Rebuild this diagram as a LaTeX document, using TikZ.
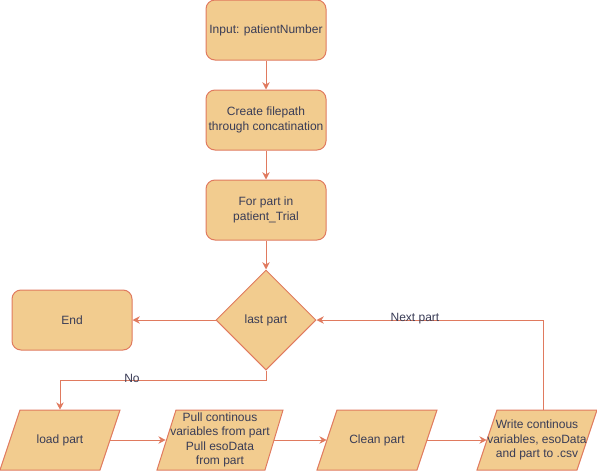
\documentclass[tikz,border=0pt]{standalone}
\usepackage{fontspec}
\setmainfont{Liberation Sans}
\usetikzlibrary{arrows.meta,shapes.geometric}
\definecolor{fillc}{HTML}{F2CC8F}
\definecolor{linec}{HTML}{E07A5F}
\definecolor{textc}{HTML}{393C56}
\begin{document}
\begin{tikzpicture}[x=0.75pt,y=-0.75pt,
  txt/.style={text=textc,font=\fontsize{9}{10.9}\selectfont,align=center,inner sep=0pt},
  box/.style={txt,draw=linec,fill=fillc,line width=0.75pt,rounded corners=6.75pt,minimum width=90pt,minimum height=45pt},
  decision/.style={txt,diamond,aspect=1,draw=linec,fill=fillc,line width=0.75pt,minimum width=75pt,minimum height=75pt},
  para/.style={draw=linec,fill=fillc,line width=0.75pt},
  slot/.style={txt,minimum height=45pt},
  conn/.style={draw=linec,line width=0.75pt,-{Stealth[length=5.5pt,width=5.5pt]}},
  lbl/.style={txt}]
\useasboundingbox (0,0) rectangle (597,471);
\node[box] (inp) at (266,30) {Input: patientNumber};
\node[box] (cf) at (266,120) {Create filepath\\through concatination};
\node[box] (fp) at (266,210) {For part in\\patient\_Trial};
\node[decision] (dec) at (266,320) {last part};
\node[box] (end) at (72,320) {End};
% parallelograms
\draw[para] (20,410) -- (120,410) -- (100,470) -- (0,470) -- cycle;
\draw[para] (176,410) -- (283,410) -- (265,470) -- (157,470) -- cycle;
\draw[para] (337,410) -- (437,410) -- (417,470) -- (317,470) -- cycle;
\draw[para] (497,410) -- (597,410) -- (577,470) -- (477,470) -- cycle;
\node[slot,minimum width=75pt] (load) at (60,440) {load part};
\node[slot,minimum width=81pt] (pull) at (220,440) {Pull continous\\variables from part\\Pull esoData\\from part};
\node[slot,minimum width=75pt] (clean) at (377,440) {Clean part};
\node[slot,minimum width=75pt] (write) at (537,440) {Write continous\\variables, esoData\\and part to .csv};
\coordinate (wtop) at (543,410);
\coordinate (nobend) at (266,380);
% connectors
\draw[conn] (inp) -- (cf);
\draw[conn] (cf) -- (fp);
\draw[conn] (fp) -- (dec);
\draw[conn] (dec.west) -- (end.east);
\draw[conn] (dec.south) -- (nobend) -| (load.north);
\draw[conn] (load.east) -- (pull.west);
\draw[conn] (pull.east) -- (clean.west);
\draw[conn] (clean.east) -- (write.west);
\draw[conn] (wtop) |- (dec.east);
\node[lbl] (nolbl) at (132,378) {No};
\node[lbl] (nextlbl) at (415,319) {Next part};
\end{tikzpicture}
\end{document}
